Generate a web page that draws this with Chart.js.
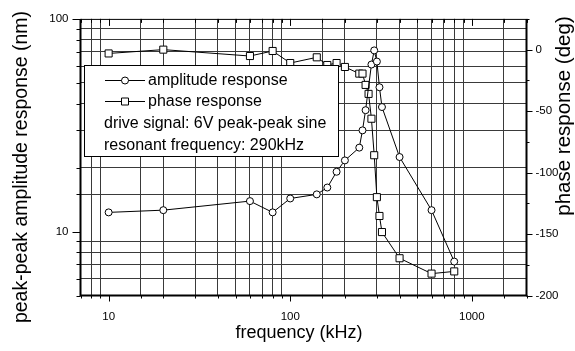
<!DOCTYPE html>
<html>
<head>
<meta charset="utf-8">
<script src="https://cdn.jsdelivr.net/npm/chart.js@4.4.0/dist/chart.umd.min.js"></script>
<style>
  html, body { margin: 0; padding: 0; background: #fff; }
  #wrap { width: 575px; height: 351px; }
</style>
</head>
<body>
<div id="wrap"><canvas id="chart"></canvas></div>
<script>
// values
const freqAmp = [10, 20, 60, 80, 100, 140, 160, 180, 200, 240, 250, 260, 280, 290, 300, 310, 320, 400, 600, 800];
const amplitude = [12.3, 12.6, 13.9, 12.3, 14.3, 14.95, 16.1, 19.1, 21.6, 24.8, 29.9, 37.2, 61, 71.1, 63, 47.7, 38.5, 22.4, 12.6, 7.22];

const freqPhase = [10, 20, 60, 80, 100, 140, 160, 180, 200, 240, 250, 260, 270, 280, 290, 300, 310, 320, 400, 600, 800];
const phase = [-3.1, 0, -5.2, -1.1, -10.9, -6.25, -12.5, -10.9, -14.1, -19.5, -19.5, -28.7, -36, -56.2, -85.9, -120, -135.3, -148.4, -169.7, -182.2, -180.4];

const xTickLabels = [10, 100, 1000];
const leftTickLabels = [10, 100];
const rightTickLabels = [0, -50, -100, -150, -200];

const legendNotes = ['drive signal: 6V peak-peak sine', 'resonant frequency: 290kHz'];

const FONT = "'Liberation Sans', Arial, Helvetica, sans-serif";
const GRID = '#3a3a3a';

const isDecade = v => Math.abs(Math.log10(v) - Math.round(Math.log10(v))) < 1e-9;

// tick marks, frame, titles and the boxed legend
const decorPlugin = {
  id: 'decor',
  afterDatasetsDraw(chart) {
    const ctx = chart.ctx;
    const a = chart.chartArea;
    const sx = chart.scales.x, sy = chart.scales.y, sy2 = chart.scales.y2;
    ctx.save();
    ctx.strokeStyle = '#000';
    ctx.lineWidth = 1;

    // bottom + top tick marks
    sx.ticks.forEach(t => {
      const px = Math.round(sx.getPixelForValue(t.value)) + 0.5;
      const major = isDecade(t.value);
      ctx.beginPath();
      ctx.moveTo(px, a.bottom);
      ctx.lineTo(px, a.bottom + (major ? 6 : 3));
      ctx.moveTo(px, a.top);
      ctx.lineTo(px, a.top + (major ? 7 : 4));
      ctx.stroke();
    });
    // left tick marks
    sy.ticks.forEach(t => {
      const py = Math.round(sy.getPixelForValue(t.value)) + 0.5;
      const major = isDecade(t.value);
      ctx.beginPath();
      ctx.moveTo(a.left, py);
      ctx.lineTo(a.left - (major ? 8 : 4), py);
      ctx.stroke();
    });
    // right tick marks
    sy2.ticks.forEach(t => {
      const py = Math.round(sy2.getPixelForValue(t.value)) + 0.5;
      const major = t.value % 50 === 0;
      ctx.beginPath();
      ctx.moveTo(a.right, py);
      ctx.lineTo(a.right + (major ? 6 : 3), py);
      ctx.stroke();
    });

    // frame
    ctx.lineWidth = 1;
    ctx.beginPath();
    ctx.moveTo(a.left, a.top + 0.5);
    ctx.lineTo(a.right, a.top + 0.5);
    ctx.stroke();
    ctx.lineWidth = 2;
    ctx.beginPath();
    ctx.moveTo(a.left, a.top);
    ctx.lineTo(a.left, a.bottom);
    ctx.lineTo(a.right, a.bottom);
    ctx.lineTo(a.right, a.top);
    ctx.stroke();

    // legend box
    const bx = 84, by = 65, bw = 254, bh = 91;
    ctx.fillStyle = '#fff';
    ctx.fillRect(bx, by, bw, bh);
    ctx.lineWidth = 1;
    ctx.strokeRect(bx + 0.5, by + 0.5, bw, bh);

    ctx.fillStyle = '#000';
    ctx.font = '16px ' + FONT;
    ctx.textBaseline = 'middle';
    ctx.textAlign = 'left';
    const rows = [80.5, 101.5, 123.5, 145.5];
    // sample lines
    [0, 1].forEach(i => {
      const y = rows[i];
      ctx.beginPath();
      ctx.moveTo(105, y);
      ctx.lineTo(145, y);
      ctx.stroke();
      ctx.fillStyle = '#fff';
      ctx.beginPath();
      if (i === 0) {
        ctx.arc(125, y, 3.5, 0, Math.PI * 2);
      } else {
        ctx.rect(121.5, y - 3.5, 7, 7);
      }
      ctx.fill();
      ctx.stroke();
      ctx.fillStyle = '#000';
    });
    ctx.fillText(chart.data.datasets[0].label, 148, rows[0]);
    ctx.fillText(chart.data.datasets[1].label, 148, rows[1]);
    ctx.fillText(legendNotes[0], 104, rows[2]);
    ctx.fillText(legendNotes[1], 104, rows[3]);

    // axis titles
    ctx.textAlign = 'center';
    ctx.font = '18px ' + FONT;
    ctx.fillText('frequency (kHz)', 299, 333);

    ctx.save();
    ctx.translate(22, 167);
    ctx.rotate(-Math.PI / 2);
    ctx.font = '19.5px ' + FONT;
    ctx.fillText('peak-peak amplitude response (nm)', 0, 0);
    ctx.restore();

    ctx.save();
    ctx.translate(564, 116);
    ctx.rotate(-Math.PI / 2);
    ctx.font = '20.5px ' + FONT;
    ctx.fillText('phase response (deg)', 0, 0);
    ctx.restore();

    ctx.restore();
  }
};

const ampPoints = freqAmp.map((f, i) => ({ x: f, y: amplitude[i] }));
const phasePoints = freqPhase.map((f, i) => ({ x: f, y: phase[i] }));

const tickFont = { family: FONT, size: 11.5 };

new Chart(document.getElementById('chart'), {
  type: 'scatter',
  data: {
    datasets: [{
      label: 'amplitude response',
      data: ampPoints,
      yAxisID: 'y',
      showLine: true,
      borderColor: '#000',
      borderWidth: 1,
      pointStyle: 'circle',
      pointRadius: 3.5,
      pointBorderWidth: 1,
      pointBackgroundColor: '#fff',
      pointBorderColor: '#000'
    }, {
      label: 'phase response',
      data: phasePoints,
      yAxisID: 'y2',
      showLine: true,
      borderColor: '#000',
      borderWidth: 1,
      pointStyle: 'rect',
      pointRadius: 5,
      pointBorderWidth: 1,
      pointBackgroundColor: '#fff',
      pointBorderColor: '#000'
    }]
  },
  options: {
    responsive: true,
    maintainAspectRatio: false,
    animation: false,
    layout: { padding: { top: 8, left: 0, right: 0, bottom: 0 } },
    plugins: {
      legend: { display: false },
      tooltip: { enabled: false }
    },
    scales: {
      x: {
        type: 'logarithmic',
        position: 'bottom',
        min: 7,
        max: 2000,
        border: { display: false },
        grid: {
          color: c => (c.tick && isDecade(c.tick.value)) ? 'rgba(0,0,0,0)' : GRID,
          borderDash: [1, 2],
          lineWidth: 1,
          drawTicks: false
        },
        ticks: {
          autoSkip: false,
          maxRotation: 0,
          padding: 14,
          color: '#000',
          font: tickFont,
          callback: v => xTickLabels.includes(v) ? String(v) : ''
        },
        afterFit: s => { s.height = 55.5; }
      },
      y: {
        type: 'logarithmic',
        position: 'left',
        min: 5,
        max: 100,
        border: { display: false },
        grid: {
          color: c => (c.tick && isDecade(c.tick.value)) ? 'rgba(0,0,0,0)' : GRID,
          borderDash: [1, 2],
          lineWidth: 1,
          drawTicks: false
        },
        ticks: {
          autoSkip: false,
          padding: 12,
          color: '#000',
          font: tickFont,
          callback: v => leftTickLabels.includes(v) ? String(v) : ''
        },
        afterFit: s => { s.width = 80.5; }
      },
      y2: {
        type: 'linear',
        position: 'right',
        min: -200,
        max: 25,
        border: { display: false },
        grid: { display: false, drawOnChartArea: false, drawTicks: false },
        ticks: {
          stepSize: 25,
          autoSkip: false,
          padding: 9,
          color: '#000',
          font: tickFont,
          callback: v => rightTickLabels.includes(v) ? String(v) : ''
        },
        afterFit: s => { s.width = 48.5; }
      }
    }
  },
  plugins: [decorPlugin]
});
</script>
</body>
</html>
